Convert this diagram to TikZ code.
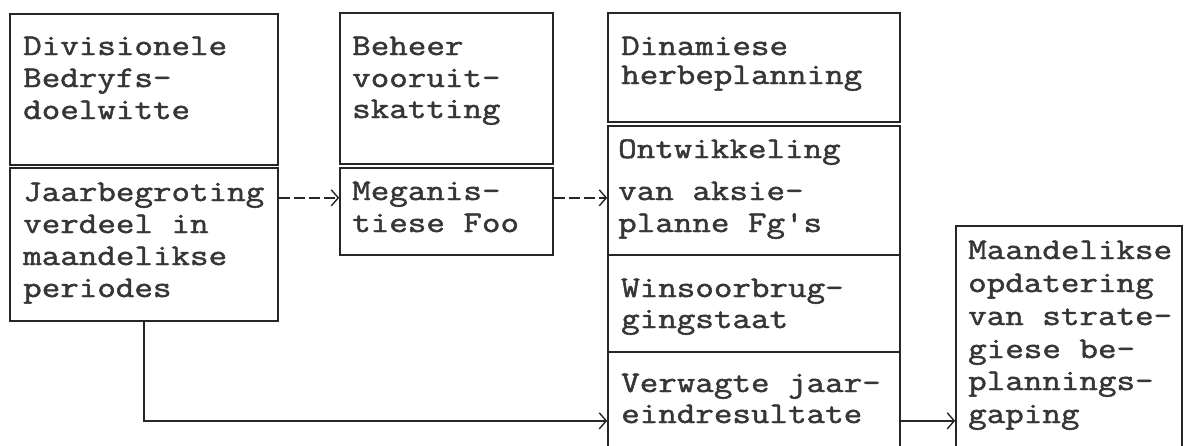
\documentclass[tikz,border=0pt]{standalone}
\usepackage{fontspec}
\usetikzlibrary{arrows.meta}
\newfontfamily\tw{lmmono12-regular.otf}[FakeStretch=1.2,FakeBold=1.6]
\definecolor{ink}{HTML}{262626}
\definecolor{txtc}{HTML}{363636}
\tikzset{
  box/.style={draw=ink, line width=1.6pt, rectangle, inner sep=0pt},
  txt/.style={anchor=base west, inner sep=0pt, text=txtc, font=\tw\fontsize{30}{32}\selectfont},
  conn/.style={draw=ink, line width=1.5pt},
  dashconn/.style={conn, dash pattern=on 11pt off 4pt},
  tip/.style={-{Straight Barb[length=7pt,width=16pt,line width=1.4pt]}}
}
\begin{document}
\begin{tikzpicture}[x=1pt,y=-1pt]
\clip (0,0) rectangle (1187,445);
\fill[white] (0,0) rectangle (1187,445);
% boxes
\node[box, minimum width=268pt, minimum height=151pt] (b1a) at (144,89.5) {};
\node[box, minimum width=268pt, minimum height=153pt] (b1b) at (144,244.5) {};
\node[box, minimum width=213pt, minimum height=151pt] (b2a) at (446.5,88.5) {};
\node[box, minimum width=213pt, minimum height=87pt] (b2b) at (446.5,211.5) {};
\node[box, minimum width=292pt, minimum height=109pt] (b3a) at (754,67.5) {};
\node[box, minimum width=292pt, minimum height=129pt] (b3b) at (754,190.5) {};
\node[box, minimum width=292pt, minimum height=97pt] (b3c) at (754,303.5) {};
\node[box, minimum width=292pt, minimum height=128pt] (b3d) at (754,416) {};
\node[box, minimum width=226pt, minimum height=254pt] (b4) at (1069,353) {};
% box 1 text
\node[txt] (t1a) at (23,55) {Divisionele};
\node[txt] (t1b) at (23,87) {Bedryfs-};
\node[txt] (t1c) at (23,119) {doelwitte};
\node[txt] (t1d) at (23,201) {Jaarbegroting};
\node[txt] (t1e) at (23,233) {verdeel in};
\node[txt] (t1f) at (23,265) {maandelikse};
\node[txt] (t1g) at (23,297) {periodes};
% box 2 text
\node[txt] (t2a) at (352,55) {Beheer};
\node[txt] (t2b) at (352,87) {vooruit-};
\node[txt] (t2c) at (352,118) {skatting};
\node[txt] (mg) at (352,200) {Meganis-};
\node[txt] (t2e) at (352,232) {tiese Foo};
% box 3 text
\node[txt] (t3a) at (621,55) {Dinamiese};
\node[txt] (t3b) at (621,84) {herbeplanning};
\node[txt] (t3c) at (618,158) {Ontwikkeling};
\node[txt] (va) at (618,200) {van aksie-};
\node[txt] (t3e) at (618,232) {planne Fg's};
\node[txt] (t3f) at (621,297) {Winsoorbrug-};
\node[txt] (t3g) at (621,328) {gingstaat};
\node[txt] (t3h) at (621,392) {Verwagte jaar-};
\node[txt] (er) at (621,423) {eindresultate};
% box 4 text
\node[txt] (t4a) at (968,259) {Maandelikse};
\node[txt] (t4b) at (968,292) {opdatering};
\node[txt] (t4c) at (968,325) {van strate-};
\node[txt] (t4d) at (968,358) {giese be-};
\node[txt] (t4e) at (968,390) {plannings-};
\node[txt] (ga) at (968,423) {gaping};
% connectors
\draw[dashconn, tip] (b1b.east |- mg.mid) -- (b2b.west |- mg.mid);
\draw[dashconn, tip] (b2b.east |- va.mid) -- (b3b.west |- va.mid);
\draw[conn, tip] (b1b.south) -- (b1b.south |- er.mid) -- (b3d.west |- er.mid);
\draw[conn, tip] (b3d.east |- ga.mid) -- (b4.west |- ga.mid);
\end{tikzpicture}
\end{document}
